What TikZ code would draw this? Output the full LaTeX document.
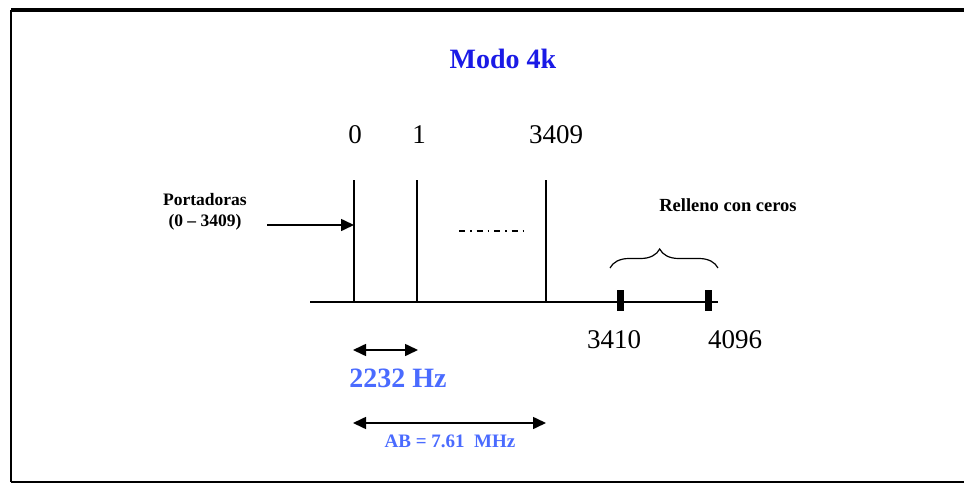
\documentclass[tikz,border=0pt]{standalone}
\usepackage{fontspec}
\setmainfont{Liberation Serif}
\usetikzlibrary{arrows.meta,decorations.pathreplacing}
\definecolor{titleblue}{HTML}{1A1AE6}
\definecolor{lightblue}{HTML}{4A6BFF}
\tikzset{
  lbl/.style={inner sep=0pt,anchor=center},
  carrier/.style={line width=1.6pt},
  tickbar/.style={fill=black,draw=none},
  arr/.style={line width=1.6pt,-{Triangle[length=13pt,width=12pt]}},
  dbl/.style={line width=1.6pt,{Triangle[length=13pt,width=12pt]}-{Triangle[length=13pt,width=12pt]}},
}
\begin{document}
\begin{tikzpicture}[x=1pt,y=-1pt]
\fill[white] (0,0) rectangle (964,484);
\useasboundingbox (0,0) rectangle (964,484);
% frame
\draw[line width=4pt] (11,10) -- (964,10);
\draw[line width=1.5pt] (11,10) -- (11,482);
\draw[line width=2pt] (11,482) -- (964,482);
% title
\node[lbl,text=titleblue,font=\fontsize{28}{32}\selectfont\bfseries] (title) at (503,59) {Modo 4k};
% numbers
\node[lbl,font=\fontsize{27}{30}\selectfont] (n0) at (355,135) {0};
\node[lbl,font=\fontsize{27}{30}\selectfont] (n1) at (419,135) {1};
\node[lbl,font=\fontsize{27}{30}\selectfont] (n3409) at (556,135) {3409};
% axis
\coordinate (axL) at (310,302);
\coordinate (axR) at (718,302);
\draw[line width=1.6pt] (axL) -- (axR);
% carriers
\coordinate (c0t) at (354,180); \coordinate (c0b) at (354,302);
\coordinate (c1t) at (417,180); \coordinate (c1b) at (417,302);
\coordinate (c3t) at (546,180); \coordinate (c3b) at (546,302);
\draw[carrier] (c0t) -- (c0b);
\draw[carrier] (c1t) -- (c1b);
\draw[carrier] (c3t) -- (c3b);
% dash-dot
\coordinate (ddL) at (459,231); \coordinate (ddR) at (525,231);
\draw[line width=1.6pt,dash pattern=on 6pt off 5pt on 1.5pt off 5pt] (ddL) -- (ddR);
% portadoras
\node[lbl,font=\fontsize{17.5}{21}\selectfont\bfseries,align=center] (port) at (205,212) {Portadoras\\(0 -- 3409)};
\coordinate (pa) at (267,225); \coordinate (pb) at (354,225);
\draw[arr] (pa) -- (pb);
% relleno
\node[lbl,font=\fontsize{18.5}{21}\selectfont\bfseries] (rell) at (728,205) {Relleno con ceros};
\coordinate (brL) at (610,268); \coordinate (brR) at (718,268);
\draw[line width=1.2pt,decoration={brace,amplitude=19pt,aspect=0.46},decorate] (brL) -- (brR);
% tick bars
\fill[tickbar] (616.5,290) rectangle (623.5,311);
\fill[tickbar] (704.5,290) rectangle (711.5,311);
\node[lbl,font=\fontsize{27}{30}\selectfont] (n3410) at (614,340) {3410};
\node[lbl,font=\fontsize{27}{30}\selectfont] (n4096) at (735,340) {4096};
% spacing arrow
\coordinate (sa) at (353,350); \coordinate (sb) at (418,350);
\draw[dbl] (sa) -- (sb);
\node[lbl,text=lightblue,font=\fontsize{28}{32}\selectfont\bfseries] (hz) at (398,378) {2232 Hz};
% bandwidth arrow
\coordinate (ba) at (353,423); \coordinate (bb) at (546,423);
\draw[dbl] (ba) -- (bb);
\node[lbl,text=lightblue,font=\fontsize{19}{22}\selectfont\bfseries] (ab) at (450,441) {AB = 7.61\ \ MHz};
\end{tikzpicture}
\end{document}
